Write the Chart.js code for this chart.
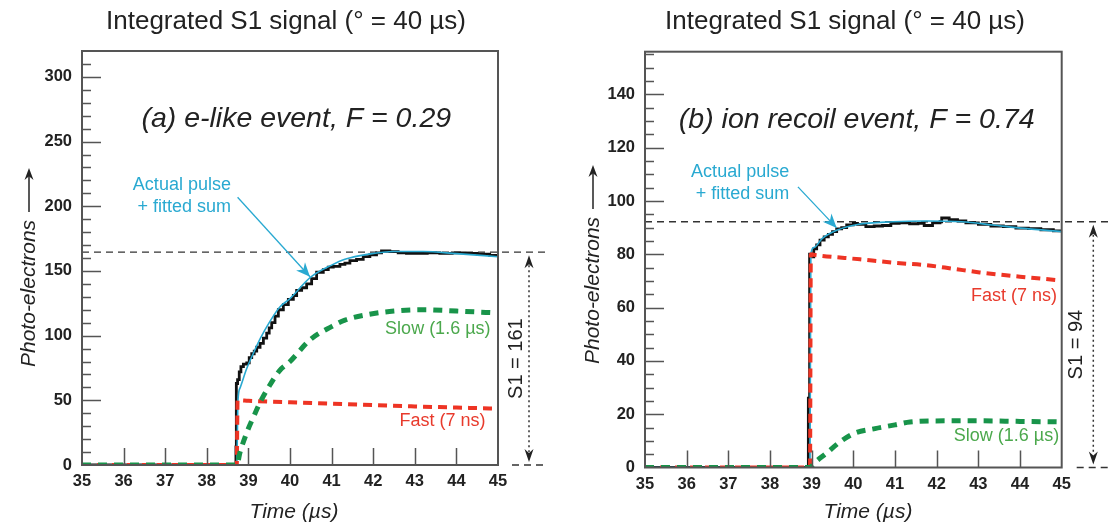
<!DOCTYPE html>
<html>
<head>
<meta charset="utf-8">
<script src="https://cdn.jsdelivr.net/npm/chart.js@4"></script>
<style>
  html, body { margin: 0; padding: 0; background: #fff; }
  #wrap { position: relative; width: 1109px; height: 526px; }
  canvas { position: absolute; top: 0; }
  #chartA { left: 0; }
  #chartB { left: 555px; }
</style>
</head>
<body>
<div id="wrap">
  <canvas id="chartA" width="555" height="526"></canvas>
  <canvas id="chartB" width="554" height="526"></canvas>
</div>
<script>
// ticks
let xTicks = [35, 36, 37, 38, 39, 40, 41, 42, 43, 44, 45];
let yTicksA = [0, 50, 100, 150, 200, 250, 300];
let yTicksB = [0, 20, 40, 60, 80, 100, 120, 140];

// (a) e-like event
let pulseTimeA = [35, 38.70, 38.71, 38.74, 38.78, 38.82, 38.88, 38.96, 39.02, 39.08, 39.14, 39.2, 39.28, 39.36, 39.44, 39.5, 39.56, 39.64, 39.72, 39.84, 39.96, 40.08, 40.16, 40.28, 40.4, 40.52, 40.64, 40.8, 40.92, 41.04, 41.2, 41.32, 41.44, 41.6, 41.76, 41.92, 42.08, 42.2, 42.4, 42.6, 42.8, 43.0, 43.3, 43.6, 43.9, 44.2, 44.5, 44.8, 45];
let pulseA = [0, 14, 63, 66, 72, 76, 78, 79, 83, 86, 88, 91, 94, 98, 102, 106, 110, 115, 120, 124, 128, 131, 135, 137, 140, 144, 149, 151, 153, 153.5, 155, 156, 158, 159, 161, 162.5, 164, 165.5, 165, 164, 163.5, 163.5, 164, 163.5, 164, 163.5, 163, 162, 161.5];
let fitTimeA = [35, 38.72, 38.75, 38.8, 38.96, 39.12, 39.29, 39.5, 39.75, 40.0, 40.49, 41.0, 41.32, 41.9, 42.5, 43.2, 44.0, 45];
let fitA = [0, 0, 50, 59.6, 74.6, 86.4, 98, 110, 122, 128.6, 145, 154.5, 159, 163, 165, 165, 163.4, 161];
let fastTimeA = [35, 38.72, 38.74, 39, 40, 41, 42, 43, 44, 45];
let fastA = [0, 0, 50, 49.6, 48.5, 47.4, 46.3, 45.3, 44.4, 43.6];
let slowTimeA = [35, 38.72, 38.8, 38.96, 39.12, 39.29, 39.5, 39.75, 40.0, 40.49, 41.0, 41.32, 41.9, 42.5, 43.2, 44.0, 45];
let slowA = [0, 0, 10, 25, 37, 49, 61, 73, 80, 97, 107, 112, 116.5, 119, 120, 119, 117.5];

// (b) ion recoil event
let pulseTimeB = [35, 38.92, 38.95, 39.0, 39.05, 39.12, 39.2, 39.3, 39.4, 39.5, 39.6, 39.72, 39.84, 40.0, 40.1, 40.3, 40.5, 40.7, 40.9, 41.1, 41.35, 41.55, 41.7, 41.9, 42.08, 42.12, 42.3, 42.5, 42.7, 43.0, 43.3, 43.6, 43.9, 44.2, 44.5, 44.8, 45];
let pulseB = [0, 26, 80, 79, 82, 83.5, 85.3, 86.5, 87.5, 88.5, 89.5, 90, 91, 91.6, 91.2, 90.4, 90.6, 90.8, 91.6, 91.8, 91.4, 91.6, 90.8, 91.8, 92.2, 93.6, 93, 92.5, 91.8, 91.2, 90.6, 90.4, 89.8, 89.6, 89.2, 88.8, 88.4];
let fitTimeB = [35, 38.96, 38.98, 39.05, 39.25, 39.6, 40.1, 40.95, 41.75, 42.6, 43.34, 44.1, 45];
let fitB = [0, 0, 80, 82.5, 85.9, 89, 91.2, 92.2, 92.5, 92.2, 91, 89.7, 88.5];
let fastTimeB = [35, 38.96, 38.98, 39.05, 40.16, 41.0, 41.75, 42.38, 43.03, 44.0, 44.9];
let fastB = [0, 0, 80, 79.8, 78.1, 76.8, 75.9, 74.6, 73.2, 71.6, 70.3];
let slowTimeB = [35, 38.98, 39.02, 39.35, 39.68, 40.02, 40.52, 41.0, 41.36, 42.2, 43.03, 44.0, 45];
let slowB = [0, 0, 0.9, 5.3, 9.6, 12.8, 14.6, 16, 17.1, 17.5, 17.5, 17.3, 17.1];

const SANS = '"Liberation Sans", Arial, sans-serif';
const CYAN = '#29a9d1';

function pts(times, values) {
    return times.map((t, i) => ({ x: t, y: values[i] }));
}

function arrowHead(ctx, x1, y1, x2, y2, len, wid) {
    let a = Math.atan2(y2 - y1, x2 - x1);
    ctx.beginPath();
    ctx.moveTo(x2, y2);
    ctx.lineTo(x2 - len * Math.cos(a) + wid * Math.sin(a), y2 - len * Math.sin(a) - wid * Math.cos(a));
    ctx.lineTo(x2 - len * 0.7 * Math.cos(a), y2 - len * 0.7 * Math.sin(a));
    ctx.lineTo(x2 - len * Math.cos(a) - wid * Math.sin(a), y2 - len * Math.sin(a) + wid * Math.cos(a));
    ctx.closePath();
    ctx.fill();
}

const decor = {
    id: 'decor',
    beforeDatasetsDraw(chart, args, o) {
        let { ctx, chartArea: a, scales: { y } } = chart;
        ctx.save();
        ctx.strokeStyle = '#333';
        ctx.lineWidth = 1.3;
        ctx.setLineDash([7, 5]);
        let yl = y.getPixelForValue(o.level);
        ctx.beginPath(); ctx.moveTo(a.left, yl); ctx.lineTo(o.dashEnd, yl); ctx.stroke();
        let y0 = y.getPixelForValue(0);
        ctx.beginPath(); ctx.moveTo(a.right + o.zeroGap, y0); ctx.lineTo(o.dashEnd, y0); ctx.stroke();
        ctx.restore();
    },
    afterDatasetsDraw(chart, args, o) {
        let { ctx, chartArea: a, scales: { x, y } } = chart;
        ctx.save();

        // frame + inward ticks
        ctx.strokeStyle = '#555';
        ctx.lineWidth = 2;
        ctx.strokeRect(a.left, a.top, a.right - a.left, a.bottom - a.top);
        ctx.lineWidth = 1.5;
        ctx.beginPath();
        for (let v = o.minorStep; v < y.max; v += o.minorStep) {
            let py = Math.round(y.getPixelForValue(v)) + 0.5;
            let len = o.yTicks.includes(v) ? 19 : 9;
            ctx.moveTo(a.left, py); ctx.lineTo(a.left + len, py);
        }
        xTicks.slice(1, -1).forEach(v => {
            let px = Math.round(x.getPixelForValue(v)) + 0.5;
            ctx.moveTo(px, a.bottom); ctx.lineTo(px, a.bottom - 17);
        });
        ctx.stroke();

        // panel title
        ctx.fillStyle = '#222';
        ctx.textAlign = 'center';
        ctx.textBaseline = 'middle';
        ctx.font = '26px ' + SANS;
        ctx.fillText(o.title, o.titleX, 22);

        // inner label
        ctx.font = 'italic 28.5px ' + SANS;
        ctx.fillText(o.label, x.getPixelForValue(o.labelAt[0]), y.getPixelForValue(o.labelAt[1]));

        // axis titles
        ctx.font = 'italic 21px ' + SANS;
        ctx.fillText('Time (µs)', o.xTitleX, 512);
        ctx.save();
        ctx.translate(o.yTitleX, o.yTitleBottom);
        ctx.rotate(-Math.PI / 2);
        ctx.textAlign = 'left';
        ctx.fillText('Photo-electrons', 0, 0);
        let w = ctx.measureText('Photo-electrons').width;
        ctx.strokeStyle = '#222';
        ctx.lineWidth = 1.5;
        ctx.beginPath(); ctx.moveTo(w + 8, 0); ctx.lineTo(w + 48, 0); ctx.stroke();
        arrowHead(ctx, w + 8, 0, w + 52, 0, 12, 4.5);
        ctx.restore();

        // actual pulse note + arrow
        ctx.fillStyle = CYAN;
        ctx.font = '18px ' + SANS;
        ctx.textAlign = 'right';
        let nx = x.getPixelForValue(o.noteAt[0]);
        ctx.fillText('Actual pulse', nx, y.getPixelForValue(o.noteAt[1]));
        ctx.fillText('+ fitted sum', nx, y.getPixelForValue(o.noteAt[2]));
        let ax1 = x.getPixelForValue(o.noteArrow[0]), ay1 = y.getPixelForValue(o.noteArrow[1]);
        let ax2 = x.getPixelForValue(o.noteArrow[2]), ay2 = y.getPixelForValue(o.noteArrow[3]);
        ctx.strokeStyle = CYAN;
        ctx.lineWidth = 1.3;
        ctx.beginPath(); ctx.moveTo(ax1, ay1); ctx.lineTo(ax2, ay2); ctx.stroke();
        arrowHead(ctx, ax1, ay1, ax2, ay2, 14, 6);

        // component labels
        ctx.fillStyle = '#4ba84c';
        ctx.fillText('Slow (1.6 µs)', x.getPixelForValue(o.slowAt[0]), y.getPixelForValue(o.slowAt[1]));
        ctx.fillStyle = '#e83a2c';
        ctx.fillText('Fast (7 ns)', x.getPixelForValue(o.fastAt[0]), y.getPixelForValue(o.fastAt[1]));

        // S1 double arrow
        let yTop = y.getPixelForValue(o.level) + 3, yBot = y.getPixelForValue(0) - 3;
        let sx = a.right + o.s1ArrowDx;
        ctx.strokeStyle = '#333';
        ctx.fillStyle = '#222';
        ctx.lineWidth = 1.5;
        ctx.setLineDash([2, 3]);
        ctx.beginPath(); ctx.moveTo(sx, yTop + 10); ctx.lineTo(sx, yBot - 10); ctx.stroke();
        ctx.setLineDash([]);
        arrowHead(ctx, sx, yBot, sx, yTop, 13, 4.5);
        arrowHead(ctx, sx, yTop, sx, yBot, 13, 4.5);
        ctx.save();
        ctx.translate(a.right + o.s1TextDx, (yTop + yBot) / 2);
        ctx.rotate(-Math.PI / 2);
        ctx.textAlign = 'center';
        ctx.font = '20px ' + SANS;
        ctx.fillText(o.s1Text, 0, 0);
        ctx.restore();

        ctx.restore();
    }
};

function makePanel(id, series, opt) {
    let datasets = [
        { data: pts(series.slowT, series.slow), borderColor: '#18944a', borderWidth: 5, borderDash: [9, 7], cubicInterpolationMode: 'monotone' },
        { data: pts(series.fastT, series.fast), borderColor: '#ee3424', borderWidth: 4, borderDash: [9, 6], cubicInterpolationMode: 'monotone' },
        { data: pts(series.fitT, series.fit), borderColor: CYAN, borderWidth: 1.6, cubicInterpolationMode: 'monotone' },
        { data: pts(series.pulseT, series.pulse), borderColor: '#111', borderWidth: 2.8, stepped: true }
    ];
    return new Chart(document.getElementById(id), {
        type: 'line',
        data: { datasets: datasets },
        plugins: [decor],
        options: {
            responsive: false,
            animation: false,
            events: [],
            elements: { point: { radius: 0 } },
            layout: { padding: { left: 0, top: opt.top, right: opt.right, bottom: 0 } },
            plugins: { legend: { display: false }, tooltip: { enabled: false }, decor: opt.decor },
            scales: {
                x: {
                    type: 'linear', min: 35, max: 45,
                    afterBuildTicks: s => { s.ticks = xTicks.map(v => ({ value: v })); },
                    afterFit: s => { s.height = opt.bottomH; },
                    grid: { display: false, drawTicks: false },
                    border: { display: false },
                    ticks: { color: '#222', padding: 7, maxRotation: 0, autoSkip: false, font: { family: SANS, size: 16.5, weight: 'bold' } }
                },
                y: {
                    type: 'linear', min: 0, max: opt.yMax,
                    afterBuildTicks: s => { s.ticks = opt.decor.yTicks.map(v => ({ value: v })); },
                    afterFit: s => { s.width = opt.leftW; },
                    grid: { display: false, drawTicks: false },
                    border: { display: false },
                    ticks: { color: '#222', padding: 10, autoSkip: false, font: { family: SANS, size: 16.5, weight: 'bold' } }
                }
            }
        }
    });
}

makePanel('chartA', {
    pulseT: pulseTimeA, pulse: pulseA, fitT: fitTimeA, fit: fitA,
    fastT: fastTimeA, fast: fastA, slowT: slowTimeA, slow: slowA
}, {
    top: 51, right: 57, bottomH: 61, leftW: 82, yMax: 320,
    decor: {
        yTicks: yTicksA, minorStep: 10,
        title: 'Integrated S1 signal (° = 40 µs)', titleX: 286,
        label: '(a) e-like event, F = 0.29', labelAt: [40.15, 267],
        noteAt: [38.58, 216.7, 199.7], noteArrow: [38.74, 207, 40.48, 145.5],
        slowAt: [44.82, 105.3], fastAt: [44.7, 34],
        level: 164.5, s1Text: 'S1 = 161', s1TextDx: 18.5, s1ArrowDx: 31, dashEnd: 548, zeroGap: 14,
        yTitleX: 29, yTitleBottom: 367, xTitleX: 294
    }
});

makePanel('chartB', {
    pulseT: pulseTimeB, pulse: pulseB, fitT: fitTimeB, fit: fitB,
    fastT: fastTimeB, fast: fastB, slowT: slowTimeB, slow: slowB
}, {
    top: 51.7, right: 47.3, bottomH: 58.5, leftW: 90, yMax: 156,
    decor: {
        yTicks: yTicksB, minorStep: 5,
        title: 'Integrated S1 signal (° = 40 µs)', titleX: 290,
        label: '(b) ion recoil event, F = 0.74', labelAt: [40.08, 130.4],
        noteAt: [38.46, 110.9, 102.7], noteArrow: [38.67, 105.3, 39.6, 89.9],
        slowAt: [44.94, 11.8], fastAt: [44.89, 64.4],
        level: 92.2, s1Text: 'S1 = 94', s1TextDx: 15, s1ArrowDx: 31.6, dashEnd: 554, zeroGap: 15,
        yTitleX: 38, yTitleBottom: 364, xTitleX: 313
    }
});
</script>
</body>
</html>
